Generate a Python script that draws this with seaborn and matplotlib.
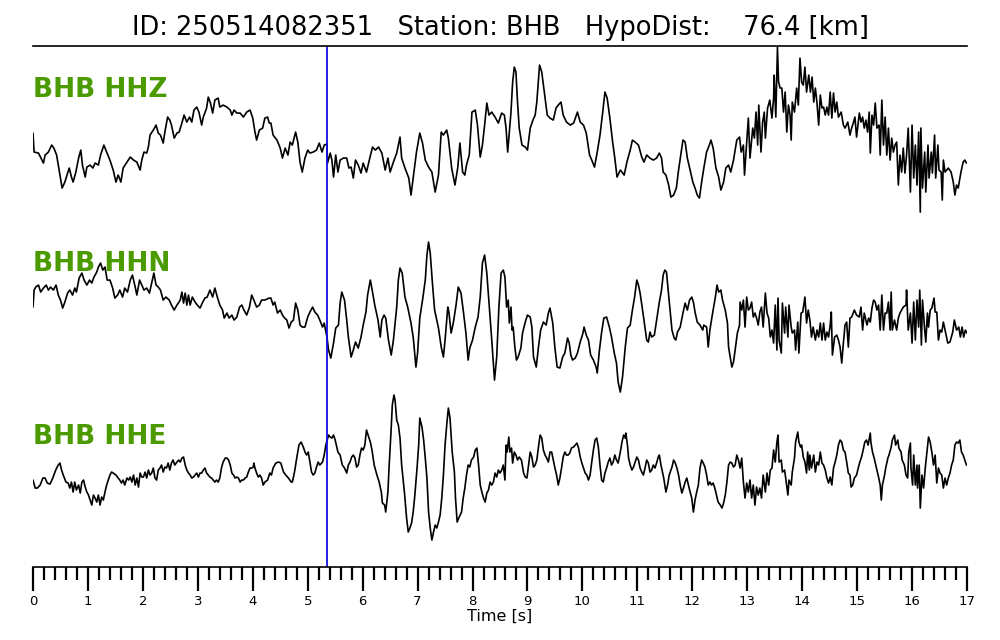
import matplotlib
matplotlib.use("Agg")
import matplotlib.pyplot as plt
from matplotlib.ticker import MultipleLocator
import pandas as pd
import seaborn as sns

event_id = "250514082351"
station = "BHB"
hypo_dist_km = 76.4
channels = ["HHZ", "HHN", "HHE"]
p_pick = 5.35  # s

# (time [s], normalized amplitude)
hhz = [
    (0.00, 17), (0.02, -2), (0.10, -3), (0.19, -13), (0.22, -5), (0.28, -2), (0.34, 5), (0.38, 2),
    (0.43, -5), (0.46, -15), (0.50, -28), (0.53, -38), (0.58, -32), (0.63, -23), (0.66, -18),
    (0.70, -27), (0.73, -32), (0.78, -22), (0.83, -8), (0.87, 0), (0.90, -15), (0.95, -27),
    (0.98, -17), (1.04, -15), (1.09, -18), (1.13, -13), (1.19, -15), (1.23, -5), (1.29, 5),
    (1.34, -2), (1.40, -10), (1.46, -20), (1.51, -32), (1.55, -25), (1.60, -32), (1.64, -18),
    (1.71, -12), (1.77, -7), (1.83, -10), (1.89, -12), (1.95, -20), (1.98, -10), (2.02, -2),
    (2.07, -3), (2.10, 3), (2.13, 15), (2.19, 20), (2.24, 25), (2.28, 17), (2.32, 15), (2.37, 7),
    (2.40, 18), (2.45, 33), (2.49, 30), (2.52, 25), (2.57, 12), (2.62, 17), (2.66, 18), (2.71, 27),
    (2.75, 35), (2.80, 28), (2.85, 33), (2.89, 28), (2.93, 40), (2.98, 43), (3.02, 38), (3.07, 25),
    (3.10, 33), (3.16, 42), (3.19, 53), (3.23, 47), (3.27, 37), (3.31, 50), (3.37, 52), (3.40, 43),
    (3.46, 45), (3.53, 43), (3.59, 40), (3.62, 35), (3.66, 40), (3.71, 37), (3.77, 37), (3.83, 33),
    (3.89, 38), (3.95, 40), (4.00, 32), (4.04, 18), (4.07, 10), (4.12, 20), (4.18, 22), (4.22, 32),
    (4.27, 33), (4.30, 27), (4.33, 27), (4.37, 15), (4.44, 10), (4.50, 2), (4.54, -8), (4.59, 2),
    (4.64, -5), (4.68, 8), (4.72, 5), (4.78, 18), (4.82, 8), (4.86, -12), (4.90, -22), (4.95, -8),
    (5.00, 0), (5.04, -3), (5.10, -2), (5.16, 0), (5.21, 7), (5.26, -2), (5.30, 5), (5.35, 6),
    (5.36, -13), (5.41, -3), (5.44, -10), (5.47, -27), (5.51, -5), (5.55, -22), (5.59, -10),
    (5.65, -8), (5.71, -8), (5.75, -18), (5.79, -17), (5.83, -28), (5.87, -10), (5.92, -15),
    (5.97, -23), (6.01, -13), (6.07, -22), (6.13, -8), (6.18, 3), (6.23, 0), (6.29, 3), (6.35, -3),
    (6.41, -20), (6.46, -8), (6.50, -22), (6.56, -12), (6.62, -3), (6.68, 13), (6.71, -8),
    (6.77, -18), (6.84, -28), (6.88, -45), (6.92, -28), (6.98, -2), (7.04, 17), (7.09, 7),
    (7.14, -10), (7.20, -17), (7.26, -22), (7.32, -42), (7.38, -25), (7.43, 18), (7.47, 15),
    (7.53, 20), (7.56, 12), (7.62, -18), (7.68, -35), (7.73, -18), (7.77, 7), (7.82, -22),
    (7.86, -25), (7.89, -15), (7.94, -5), (7.99, 38), (8.05, 40), (8.09, 25), (8.14, -7), (8.18, 5),
    (8.22, 25), (8.26, 47), (8.30, 35), (8.35, 38), (8.41, 33), (8.47, 27), (8.53, 37), (8.58, 35),
    (8.61, 22), (8.64, -2), (8.67, 18), (8.70, 38), (8.73, 68), (8.76, 83), (8.79, 78), (8.82, 47),
    (8.85, 22), (8.90, 5), (8.96, 3), (9.00, 0), (9.05, 22), (9.10, 30), (9.14, 35), (9.17, 48),
    (9.22, 85), (9.26, 78), (9.32, 52), (9.36, 35), (9.41, 32), (9.47, 30), (9.52, 42), (9.56, 45),
    (9.61, 48), (9.65, 35), (9.71, 28), (9.78, 25), (9.84, 27), (9.91, 38), (9.96, 28), (10.02, 25),
    (10.07, 17), (10.13, -5), (10.17, -10), (10.22, -17), (10.27, -2), (10.32, 15), (10.37, 38),
    (10.41, 58), (10.45, 52), (10.50, 32), (10.55, 8), (10.59, -8), (10.63, -27), (10.69, -20),
    (10.72, -22), (10.76, -25), (10.81, -12), (10.87, 0), (10.91, 10), (10.96, 8), (11.02, 5),
    (11.08, -7), (11.12, -12), (11.17, -5), (11.23, -8), (11.29, -10), (11.35, -8), (11.40, -3),
    (11.44, -8), (11.47, -22), (11.52, -25), (11.57, -35), (11.61, -47), (11.66, -45), (11.71, -38),
    (11.75, -20), (11.79, -5), (11.83, 10), (11.87, 8), (11.91, -8), (11.96, -20), (12.01, -32),
    (12.05, -38), (12.09, -45), (12.13, -48), (12.17, -32), (12.21, -18), (12.26, -2), (12.31, 5),
    (12.34, 10), (12.38, 2), (12.43, -18), (12.48, -27), (12.52, -40), (12.57, -32), (12.61, -18),
    (12.66, -15), (12.70, -22), (12.75, -10), (12.81, 10), (12.86, 13), (12.89, -2), (12.93, 5),
    (12.95, -25), (12.99, 8), (13.02, 32), (13.05, -8), (13.10, 22), (13.13, 12), (13.16, 38),
    (13.19, 5), (13.21, 45), (13.25, -2), (13.28, 28), (13.31, 38), (13.33, 12), (13.37, 42),
    (13.41, 50), (13.45, 32), (13.48, 52), (13.49, 75), (13.52, 33), (13.54, 78), (13.55, 103),
    (13.57, 68), (13.60, 62), (13.63, 62), (13.66, 38), (13.69, 58), (13.72, 18), (13.75, 45),
    (13.78, 35), (13.80, 10), (13.82, 48), (13.86, 38), (13.90, 62), (13.93, 45), (13.96, 92),
    (13.99, 68), (14.02, 65), (14.05, 83), (14.08, 58), (14.12, 75), (14.15, 58), (14.18, 73),
    (14.21, 48), (14.24, 62), (14.27, 47), (14.30, 25), (14.33, 55), (14.36, 42), (14.39, 43),
    (14.42, 35), (14.45, 43), (14.48, 35), (14.51, 58), (14.54, 32), (14.57, 57), (14.60, 38),
    (14.63, 48), (14.66, 33), (14.71, 38), (14.75, 25), (14.78, 22), (14.83, 28), (14.87, 15),
    (14.90, 22), (14.93, 27), (14.96, 33), (14.99, 13), (15.04, 37), (15.07, 28), (15.10, 33),
    (15.13, 22), (15.16, 30), (15.19, 18), (15.22, 38), (15.24, -3), (15.27, 35), (15.30, 25),
    (15.33, 47), (15.36, 22), (15.40, 25), (15.42, -5), (15.45, 50), (15.48, 5), (15.51, 33),
    (15.54, -5), (15.57, 22), (15.60, -10), (15.63, 12), (15.66, -2), (15.69, 5), (15.72, 8),
    (15.75, -35), (15.78, -5), (15.81, -22), (15.84, 2), (15.87, -23), (15.90, -5), (15.93, 22),
    (15.97, -42), (16.00, 25), (16.03, -28), (16.06, 5), (16.09, -35), (16.12, 18), (16.15, -62),
    (16.16, 22), (16.19, -38), (16.23, -2), (16.25, -42), (16.29, 5), (16.31, -28), (16.35, -2),
    (16.37, -23), (16.41, 15), (16.43, -28), (16.47, 5), (16.49, -20), (16.53, -22), (16.55, -50),
    (16.57, -10), (16.60, -22), (16.63, -20), (16.66, -18), (16.71, -22), (16.75, -32), (16.78, -45),
    (16.81, -35), (16.84, -38), (16.89, -22), (16.93, -12), (16.96, -10), (16.99, -13),
]

hhn = [
    (0.00, 3), (0.02, 20), (0.05, 23), (0.10, 25), (0.14, 18), (0.19, 22), (0.24, 25), (0.28, 20),
    (0.32, 23), (0.37, 20), (0.42, 25), (0.46, 15), (0.50, 10), (0.54, 2), (0.58, 8), (0.63, 17),
    (0.67, 20), (0.72, 15), (0.76, 22), (0.79, 18), (0.84, 32), (0.89, 37), (0.93, 30), (0.98, 25),
    (1.03, 30), (1.07, 27), (1.11, 33), (1.16, 38), (1.19, 43), (1.23, 47), (1.27, 40), (1.31, 43),
    (1.35, 30), (1.40, 30), (1.45, 22), (1.49, 12), (1.54, 15), (1.58, 20), (1.63, 13), (1.67, 22),
    (1.72, 18), (1.77, 30), (1.81, 35), (1.86, 23), (1.89, 15), (1.94, 30), (1.98, 25), (2.02, 20),
    (2.07, 22), (2.12, 17), (2.16, 27), (2.20, 37), (2.24, 25), (2.28, 23), (2.32, 20), (2.37, 10),
    (2.42, 13), (2.48, 10), (2.52, 5), (2.57, 0), (2.62, 5), (2.68, 10), (2.71, 18), (2.74, 7),
    (2.77, 17), (2.80, 5), (2.83, 15), (2.86, 5), (2.90, 13), (2.95, 8), (2.99, 5), (3.04, 2),
    (3.09, 8), (3.13, 12), (3.17, 13), (3.22, 20), (3.27, 13), (3.31, 22), (3.36, 12), (3.40, 5),
    (3.45, 0), (3.48, -8), (3.53, -3), (3.57, -8), (3.62, -5), (3.66, -10), (3.71, -7), (3.76, 3),
    (3.80, 5), (3.84, 0), (3.89, -5), (3.94, 3), (3.98, 15), (4.02, 10), (4.07, 3), (4.12, 5),
    (4.16, 10), (4.22, 10), (4.30, 12), (4.33, 12), (4.37, 5), (4.40, 8), (4.45, -3), (4.50, 0),
    (4.54, -5), (4.58, -8), (4.62, -10), (4.66, -18), (4.70, -12), (4.74, -10), (4.78, 7), (4.82, 0),
    (4.86, -15), (4.90, -17), (4.95, -17), (5.00, -7), (5.04, -2), (5.09, 3), (5.13, -2), (5.18, -5),
    (5.22, -10), (5.27, -17), (5.30, -13), (5.35, -27), (5.38, -40), (5.42, -48), (5.47, -33),
    (5.51, -18), (5.56, -15), (5.59, 7), (5.62, 18), (5.67, 10), (5.71, -10), (5.74, -27),
    (5.79, -47), (5.83, -40), (5.87, -32), (5.92, -38), (5.97, -27), (6.01, -15), (6.06, -2),
    (6.09, 15), (6.14, 30), (6.18, 18), (6.22, 5), (6.28, -10), (6.32, -27), (6.35, -10), (6.39, -5),
    (6.42, -8), (6.47, -30), (6.52, -45), (6.56, -30), (6.62, 3), (6.65, 30), (6.68, 42), (6.72, 37),
    (6.77, 13), (6.82, 3), (6.88, -13), (6.92, -27), (6.97, -57), (7.00, -43), (7.04, -8), (7.09, 10),
    (7.14, 30), (7.17, 55), (7.20, 68), (7.23, 57), (7.27, 27), (7.31, 0), (7.35, -10), (7.38, -18),
    (7.43, -37), (7.47, -47), (7.50, -30), (7.55, 3), (7.57, -2), (7.61, -23), (7.65, -13), (7.70, 5),
    (7.74, 23), (7.79, 17), (7.83, 0), (7.88, -23), (7.92, -50), (7.95, -38), (8.00, -30),
    (8.05, -17), (8.10, -7), (8.14, 13), (8.18, 47), (8.22, 55), (8.26, 37), (8.30, 7), (8.35, -30),
    (8.40, -70), (8.44, -47), (8.48, 3), (8.52, 37), (8.56, 40), (8.59, 33), (8.62, 3), (8.65, 10),
    (8.67, -13), (8.70, 3), (8.72, -20), (8.74, -17), (8.77, -37), (8.80, -50), (8.83, -47),
    (8.88, -38), (8.91, -23), (8.96, -12), (9.00, -5), (9.05, -7), (9.08, -17), (9.11, -47),
    (9.16, -57), (9.20, -37), (9.24, -20), (9.29, -12), (9.34, -15), (9.38, -3), (9.41, 2),
    (9.46, -13), (9.50, -38), (9.54, -57), (9.59, -58), (9.64, -47), (9.68, -43), (9.73, -28),
    (9.76, -33), (9.79, -45), (9.82, -50), (9.87, -48), (9.91, -43), (9.96, -32), (10.01, -23),
    (10.03, -17), (10.07, -25), (10.11, -30), (10.15, -45), (10.20, -50), (10.25, -57), (10.27, -63),
    (10.31, -40), (10.35, -22), (10.39, -8), (10.44, -7), (10.49, -17), (10.53, -27), (10.58, -43),
    (10.62, -53), (10.65, -72), (10.69, -82), (10.73, -67), (10.78, -37), (10.82, -18), (10.87, -15),
    (10.91, 0), (10.95, 13), (10.99, 30), (11.02, 25), (11.05, 17), (11.10, -2), (11.14, -18),
    (11.17, -30), (11.20, -32), (11.23, -22), (11.26, -27), (11.31, -25), (11.35, -10), (11.40, 8),
    (11.44, 20), (11.47, 35), (11.50, 40), (11.53, 38), (11.56, 20), (11.59, 3), (11.63, -20),
    (11.67, -28), (11.70, -30), (11.73, -22), (11.78, -17), (11.83, -3), (11.87, 7), (11.91, 0),
    (11.95, 10), (11.99, 13), (12.02, 8), (12.05, -2), (12.09, -12), (12.14, -15), (12.19, -20),
    (12.21, -15), (12.26, -17), (12.29, -37), (12.32, -20), (12.37, -3), (12.42, 13), (12.45, 25),
    (12.48, 18), (12.52, 20), (12.55, 10), (12.60, 0), (12.64, -13), (12.66, -37), (12.69, -47),
    (12.72, -57), (12.75, -52), (12.78, -40), (12.82, -23), (12.86, -15), (12.87, 8), (12.90, 0),
    (12.93, 10), (12.96, -17), (12.99, 13), (13.02, 0), (13.05, 2), (13.08, 8), (13.11, -7),
    (13.14, -3), (13.17, -8), (13.20, -15), (13.23, -2), (13.26, 3), (13.29, -17), (13.33, 17),
    (13.36, -3), (13.39, -8), (13.42, -27), (13.45, -20), (13.48, -33), (13.51, 5), (13.54, -40),
    (13.56, 12), (13.58, -30), (13.62, -43), (13.64, 7), (13.68, -23), (13.70, 3), (13.74, -27),
    (13.76, 5), (13.80, -17), (13.82, -23), (13.86, -20), (13.88, -40), (13.92, -12), (13.94, -43),
    (13.98, -3), (14.01, -2), (14.05, 13), (14.08, -13), (14.11, 0), (14.14, -10), (14.17, -27),
    (14.20, -17), (14.24, -30), (14.27, -20), (14.30, -27), (14.33, -13), (14.36, -30), (14.39, -13),
    (14.42, -30), (14.45, -22), (14.48, -27), (14.51, -15), (14.53, -2), (14.55, -45), (14.59, -27),
    (14.63, -25), (14.66, -30), (14.69, -37), (14.72, -53), (14.75, -33), (14.78, -15), (14.81, -12),
    (14.84, -37), (14.87, -8), (14.90, -7), (14.95, 0), (14.99, -5), (15.04, -7), (15.07, 3),
    (15.10, -20), (15.13, -3), (15.18, -15), (15.21, -8), (15.24, -12), (15.27, 2), (15.30, 10),
    (15.33, 8), (15.36, 0), (15.39, 5), (15.42, -20), (15.45, 15), (15.48, -20), (15.51, -3),
    (15.54, -3), (15.57, 8), (15.60, -20), (15.62, 18), (15.64, -20), (15.68, -10), (15.72, -20),
    (15.75, -8), (15.78, -3), (15.84, 3), (15.89, 5), (15.90, 20), (15.93, -20), (15.97, -3),
    (16.00, -33), (16.03, 8), (16.06, -30), (16.09, 10), (16.12, -17), (16.14, 20), (16.17, -35),
    (16.19, 10), (16.23, -20), (16.25, -32), (16.28, -3), (16.30, -17), (16.33, 0), (16.36, 2),
    (16.40, 12), (16.42, -2), (16.45, -2), (16.48, -30), (16.51, -20), (16.54, -22), (16.57, -12),
    (16.60, -20), (16.65, -33), (16.69, -32), (16.74, -22), (16.77, -10), (16.81, -20), (16.85, -17),
    (16.88, -27), (16.91, -17), (16.94, -27), (16.97, -20), (17.00, -23),
]

hhe = [
    (0.00, -15), (0.04, -23), (0.08, -23), (0.13, -20), (0.18, -13), (0.22, -13), (0.26, -18),
    (0.31, -19), (0.36, -13), (0.40, -7), (0.43, -3), (0.46, 0), (0.49, 2), (0.52, -5), (0.55, -10),
    (0.60, -17), (0.64, -18), (0.67, -23), (0.70, -17), (0.73, -27), (0.76, -17), (0.79, -25),
    (0.83, -20), (0.86, -28), (0.89, -17), (0.92, -15), (0.95, -22), (0.98, -27), (1.01, -30),
    (1.04, -35), (1.07, -40), (1.10, -30), (1.13, -33), (1.16, -37), (1.19, -30), (1.22, -40),
    (1.25, -32), (1.28, -35), (1.31, -27), (1.34, -20), (1.37, -15), (1.40, -10), (1.43, -7),
    (1.46, -8), (1.51, -10), (1.55, -13), (1.58, -15), (1.61, -18), (1.64, -15), (1.67, -20),
    (1.71, -13), (1.74, -15), (1.77, -12), (1.80, -17), (1.83, -10), (1.86, -20), (1.89, -13),
    (1.92, -22), (1.95, -8), (1.98, -12), (2.01, -12), (2.04, -7), (2.07, -13), (2.10, -5),
    (2.13, -10), (2.16, -8), (2.19, -3), (2.22, -13), (2.25, -15), (2.28, -5), (2.31, -3), (2.34, 0),
    (2.37, -7), (2.40, -2), (2.43, -3), (2.46, 2), (2.49, -5), (2.52, 2), (2.55, 5), (2.58, 0),
    (2.62, 3), (2.65, 5), (2.68, 3), (2.71, 7), (2.74, 8), (2.77, 0), (2.80, -5), (2.83, -8),
    (2.86, -10), (2.89, -13), (2.92, -12), (2.95, -10), (2.98, -8), (3.01, -12), (3.04, -8),
    (3.07, -8), (3.10, -5), (3.13, -3), (3.16, -8), (3.19, -10), (3.22, -12), (3.25, -13),
    (3.28, -15), (3.31, -17), (3.34, -15), (3.37, -17), (3.40, -13), (3.43, -3), (3.46, 3), (3.50, 7),
    (3.53, 7), (3.56, 5), (3.59, 0), (3.62, -8), (3.65, -10), (3.68, -13), (3.71, -12), (3.74, -13),
    (3.77, -17), (3.80, -15), (3.83, -15), (3.86, -13), (3.89, -12), (3.92, -7), (3.95, -3),
    (3.98, -3), (4.01, -2), (4.02, 2), (4.04, -3), (4.07, -8), (4.10, -12), (4.13, -10), (4.16, -13),
    (4.19, -20), (4.22, -17), (4.27, -15), (4.31, -8), (4.34, -10), (4.37, -3), (4.42, 2), (4.47, 3),
    (4.51, 2), (4.56, -7), (4.60, -10), (4.65, -13), (4.70, -17), (4.72, -17), (4.76, -7), (4.80, 7),
    (4.84, 20), (4.88, 23), (4.92, 18), (4.95, 13), (4.98, 10), (5.01, 13), (5.04, 3), (5.07, -7),
    (5.10, -10), (5.13, -8), (5.16, -2), (5.19, 3), (5.22, 0), (5.27, 3), (5.30, 10), (5.33, 20),
    (5.38, 30), (5.41, 28), (5.44, 27), (5.47, 30), (5.50, 25), (5.55, 13), (5.59, 10), (5.63, 0),
    (5.67, -3), (5.71, -8), (5.74, 0), (5.77, 3), (5.80, 8), (5.83, 10), (5.86, 7), (5.89, -2),
    (5.92, 0), (5.95, 10), (5.98, 17), (6.01, 15), (6.04, 20), (6.07, 35), (6.10, 30), (6.14, 23),
    (6.17, 15), (6.21, 0), (6.26, -10), (6.30, -17), (6.34, -27), (6.36, -38), (6.40, -40),
    (6.42, -47), (6.46, -27), (6.48, -3), (6.52, 37), (6.54, 60), (6.57, 70), (6.59, 65), (6.62, 45),
    (6.65, 40), (6.68, 27), (6.71, 0), (6.76, -27), (6.80, -53), (6.83, -67), (6.86, -63),
    (6.89, -58), (6.92, -47), (6.95, -30), (6.99, -3), (7.02, 20), (7.04, 47), (7.08, 38), (7.11, 25),
    (7.14, 7), (7.17, -13), (7.20, -47), (7.23, -63), (7.26, -75), (7.29, -67), (7.32, -60),
    (7.35, -63), (7.38, -57), (7.41, -50), (7.44, -33), (7.47, -10), (7.50, 20), (7.53, 40),
    (7.56, 57), (7.59, 47), (7.61, 30), (7.63, 13), (7.67, -7), (7.69, -33), (7.72, -57), (7.75, -53),
    (7.80, -47), (7.83, -33), (7.86, -23), (7.89, -10), (7.92, 0), (7.95, -2), (7.98, 5), (8.02, 8),
    (8.05, 15), (8.08, 17), (8.11, 0), (8.14, -20), (8.17, -27), (8.20, -33), (8.23, -37),
    (8.26, -28), (8.29, -25), (8.32, -17), (8.35, -20), (8.38, -17), (8.41, -8), (8.44, -12),
    (8.47, -5), (8.50, -8), (8.53, -5), (8.56, 0), (8.59, -15), (8.61, 20), (8.63, 13), (8.66, 28),
    (8.68, 13), (8.71, 17), (8.73, 2), (8.76, 13), (8.79, 10), (8.82, 5), (8.85, 8), (8.89, 5),
    (8.93, -8), (8.96, -12), (8.99, -13), (9.02, 0), (9.05, 13), (9.08, 8), (9.11, -2), (9.14, 0),
    (9.17, 5), (9.20, 18), (9.23, 30), (9.26, 27), (9.29, 15), (9.32, 10), (9.35, 7), (9.38, 3),
    (9.41, 13), (9.44, 13), (9.47, 5), (9.50, -3), (9.53, -10), (9.56, -20), (9.59, -13), (9.62, -3),
    (9.65, 8), (9.68, 13), (9.71, 10), (9.74, 10), (9.77, 12), (9.80, 17), (9.84, 18), (9.87, 20),
    (9.90, 22), (9.93, 17), (9.96, 8), (9.99, 2), (10.02, -3), (10.05, -8), (10.08, -10),
    (10.11, -15), (10.14, -10), (10.17, 3), (10.20, 15), (10.23, 25), (10.26, 27), (10.29, 18),
    (10.32, 0), (10.35, -15), (10.38, -17), (10.41, -8), (10.44, -3), (10.47, 3), (10.50, 7),
    (10.53, 0), (10.56, 3), (10.59, 10), (10.62, 5), (10.65, 2), (10.69, 13), (10.72, 23), (10.75, 30),
    (10.78, 27), (10.79, 32), (10.82, 20), (10.84, 7), (10.87, 0), (10.90, -5), (10.93, -2),
    (10.96, 3), (10.99, 8), (11.02, 5), (11.05, -3), (11.08, -7), (11.11, -10), (11.14, -3),
    (11.17, 5), (11.20, 2), (11.23, -7), (11.26, -5), (11.29, 0), (11.32, -3), (11.35, 2), (11.38, 8),
    (11.40, 10), (11.43, 0), (11.46, -8), (11.48, -13), (11.52, -27), (11.55, -20), (11.58, -10),
    (11.63, -2), (11.66, 5), (11.69, 2), (11.72, -3), (11.75, -10), (11.78, -20), (11.81, -28),
    (11.84, -23), (11.87, -17), (11.90, -13), (11.93, -20), (11.96, -27), (11.99, -33), (12.02, -47),
    (12.05, -35), (12.08, -27), (12.11, -20), (12.14, -3), (12.17, 5), (12.20, 2), (12.23, -2),
    (12.26, -10), (12.29, -20), (12.32, -17), (12.35, -20), (12.38, -18), (12.41, -23), (12.44, -30),
    (12.47, -37), (12.51, -40), (12.54, -43), (12.57, -38), (12.60, -30), (12.63, -17), (12.66, 0),
    (12.69, 3), (12.72, 2), (12.75, -2), (12.78, 0), (12.81, 10), (12.84, 5), (12.87, -3), (12.90, 7),
    (12.93, -17), (12.96, -33), (12.99, -18), (13.02, -27), (13.05, -15), (13.08, -33), (13.11, -20),
    (13.14, -40), (13.17, -22), (13.20, -30), (13.23, -23), (13.26, -33), (13.29, -10), (13.33, -27),
    (13.36, -8), (13.39, -20), (13.42, -5), (13.45, -3), (13.48, 15), (13.51, 3), (13.54, 23),
    (13.56, 30), (13.58, 3), (13.62, 5), (13.64, -7), (13.68, -5), (13.70, -13), (13.74, -30),
    (13.76, -15), (13.80, -20), (13.82, -7), (13.86, 7), (13.88, 23), (13.92, 33), (13.94, 23),
    (13.97, 18), (13.99, 20), (14.02, 8), (14.05, 3), (14.08, -8), (14.10, 13), (14.13, -5),
    (14.14, 10), (14.17, -3), (14.21, 10), (14.24, -7), (14.27, 3), (14.30, 0), (14.33, 13),
    (14.36, 2), (14.39, 0), (14.42, -5), (14.45, -13), (14.48, -18), (14.51, -12), (14.54, -20),
    (14.57, -3), (14.60, 3), (14.63, 10), (14.66, 20), (14.69, 25), (14.72, 23), (14.75, 15),
    (14.78, 13), (14.81, 3), (14.84, -8), (14.87, -10), (14.89, -22), (14.92, -20), (14.95, -13),
    (14.99, -10), (15.02, -3), (15.05, 3), (15.08, 8), (15.11, 15), (15.14, 23), (15.17, 25),
    (15.20, 20), (15.24, 32), (15.25, 23), (15.28, 13), (15.31, 7), (15.36, -5), (15.39, -12),
    (15.42, -20), (15.44, -35), (15.46, -20), (15.50, -10), (15.52, -3), (15.56, 7), (15.58, 10),
    (15.62, 18), (15.64, 25), (15.68, 30), (15.70, 20), (15.74, 25), (15.76, 17), (15.80, 13),
    (15.82, 5), (15.86, 0), (15.89, -10), (15.92, -13), (15.94, 13), (15.97, 22), (15.98, -3),
    (16.01, -20), (16.03, 10), (16.06, -20), (16.09, 0), (16.10, -23), (16.13, 0), (16.15, -43),
    (16.18, -10), (16.21, -23), (16.24, -3), (16.27, 13), (16.30, 28), (16.33, 23), (16.36, 13),
    (16.39, 0), (16.42, 10), (16.45, -18), (16.48, -3), (16.51, -8), (16.54, -10), (16.57, -23),
    (16.60, -13), (16.63, -20), (16.66, -13), (16.69, -8), (16.72, 0), (16.75, 5), (16.78, 20),
    (16.81, 23), (16.84, 22), (16.87, 25), (16.90, 13), (16.93, 10), (16.96, 5), (16.99, 0),
]

traces = {"HHZ": hhz, "HHN": hhn, "HHE": hhe}
baseline = {"HHZ": 150, "HHN": 310, "HHE": 465}
label_y = {"HHZ": 90, "HHN": 264, "HHE": 437}

sns.set_style("white")
plt.rcParams["font.family"] = ["DejaVu Sans"]
plt.rcParams["text.color"] = "black"
plt.rcParams["axes.labelcolor"] = "black"
plt.rcParams["xtick.color"] = "black"

fig = plt.figure(figsize=(10, 6.4), dpi=100)
ax = fig.add_axes([0.033, 0.114, 0.934, 0.814])

for ch in channels:
    df = pd.DataFrame(traces[ch], columns=["time", "amp"])
    df["y"] = df["amp"] - baseline[ch]
    sns.lineplot(data=df, x="time", y="y", color="black", linewidth=1.2,
                 estimator=None, sort=False, ax=ax)
    ax.text(0.0, -label_y[ch], f"{station} {ch}", color="#4a9a00", fontsize=19,
            fontweight="bold", ha="left", va="center", zorder=5)

ax.axvline(p_pick, color="#1010dd", linewidth=1.3)

ax.set_xlim(0, 17)
ax.set_ylim(-567, -46)
ax.set_yticks([])
ax.set_ylabel("")
ax.xaxis.set_major_locator(MultipleLocator(1))
ax.xaxis.set_minor_locator(MultipleLocator(0.2))
ax.tick_params(axis="x", which="major", direction="out", length=17, width=1.6,
               labelsize=9.5, pad=3, bottom=True, colors="black")
ax.tick_params(axis="x", which="minor", direction="out", length=9, width=1.6,
               bottom=True, colors="black")
ax.set_xlabel("Time [s]", fontsize=11.5, labelpad=1)

for side in ["left", "right"]:
    ax.spines[side].set_visible(False)
for side in ["top", "bottom"]:
    ax.spines[side].set_visible(True)
    ax.spines[side].set_color("black")
    ax.spines[side].set_linewidth(1.2)

fig.suptitle(f"ID: {event_id}   Station: {station}   HypoDist:    {hypo_dist_km:.1f} [km]",
             fontsize=18.5, y=0.957, va="center", color="black")

fig.savefig("out.png", dpi=100)
